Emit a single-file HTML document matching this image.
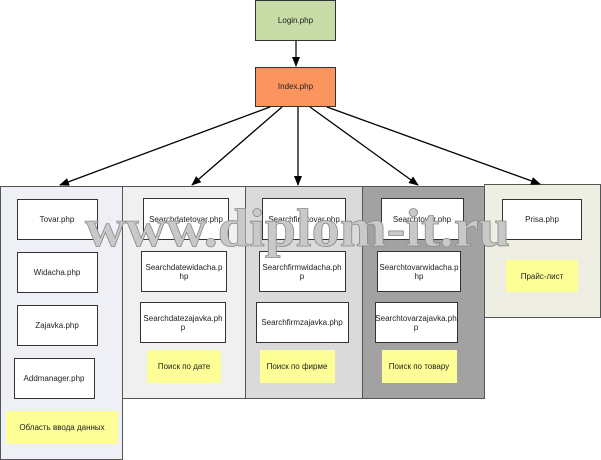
<!DOCTYPE html>
<html><head><meta charset="utf-8"><style>
html,body{margin:0;padding:0;background:#fff;}
svg{display:block;}
text{font-family:"Liberation Sans","DejaVu Sans",sans-serif;font-size:8px;fill:#222;}
</style></head><body>
<svg width="601" height="460" viewBox="0 0 601 460" xmlns="http://www.w3.org/2000/svg">
<defs><marker id="a" markerWidth="10" markerHeight="8" refX="9" refY="4" orient="auto" markerUnits="userSpaceOnUse"><path d="M0,0 L10,4 L0,8 z" fill="#000"/></marker></defs>
<!-- columns -->
<rect x="0.5" y="186.5" width="122" height="273" fill="#eef0f5" stroke="#555"/>
<rect x="122.5" y="186.5" width="123" height="212" fill="#f0f0f0" stroke="#555"/>
<rect x="245.5" y="186.5" width="117" height="212" fill="#dadada" stroke="#555"/>
<rect x="362.5" y="186.5" width="122" height="212" fill="#a2a2a2" stroke="#555"/>
<rect x="484.5" y="184.5" width="116" height="133" fill="#eeefe2" stroke="#555"/>
<!-- top -->
<rect x="255.5" y="0.5" width="80" height="40" fill="#c6dba6" stroke="#333"/>
<text x="295.5" y="23" text-anchor="middle">Login.php</text>
<line x1="296" y1="41" x2="296" y2="66" stroke="#000" stroke-width="1.2" marker-end="url(#a)"/>
<rect x="255.5" y="67.5" width="80" height="39" fill="#fc9460" stroke="#333"/>
<text x="295.5" y="89" text-anchor="middle">Index.php</text>
<g stroke="#000" stroke-width="1.3" marker-end="url(#a)">
<line x1="270" y1="107" x2="60" y2="185"/>
<line x1="282" y1="107" x2="192" y2="185"/>
<line x1="298" y1="107" x2="298" y2="185"/>
<line x1="310" y1="107" x2="418" y2="185"/>
<line x1="327" y1="107" x2="540" y2="184"/>
</g>
<g fill="#fff" stroke="#333">
<rect x="17.5" y="199.5" width="80" height="40"/>
<rect x="17.5" y="252.5" width="80" height="40"/>
<rect x="17.5" y="305.5" width="80" height="40"/>
<rect x="14.5" y="358.5" width="80" height="40"/>
<rect x="143.5" y="198.5" width="85" height="41"/>
<rect x="141.5" y="251.5" width="85" height="40"/>
<rect x="140.5" y="302.5" width="85" height="40"/>
<rect x="262.5" y="198.5" width="83" height="41"/>
<rect x="259.5" y="251.5" width="86" height="40"/>
<rect x="256.5" y="302.5" width="92" height="40"/>
<rect x="381.5" y="198.5" width="82" height="41"/>
<rect x="377.5" y="251.5" width="83" height="40"/>
<rect x="375.5" y="302.5" width="82" height="40"/>
<rect x="502.5" y="199.5" width="79" height="40"/>
</g>
<g fill="#fefe96">
<rect x="6" y="411" width="112" height="33"/>
<rect x="147" y="350" width="74" height="33"/>
<rect x="260" y="350" width="75" height="33"/>
<rect x="382" y="350" width="75" height="33"/>
<rect x="506" y="260" width="72" height="32"/>
</g>
<g text-anchor="middle">
<text x="57" y="222">Tovar.php</text>
<text x="57" y="275">Widacha.php</text>
<text x="57" y="328">Zajavka.php</text>
<text x="54" y="381">Addmanager.php</text>
<text x="62" y="430">Область ввода данных</text>
<text x="186" y="222">Searchdatetovar.php</text>
<text x="184" y="270">Searchdatewidacha.p</text><text x="184" y="279">hp</text>
<text x="183" y="321">Searchdatezajavka.ph</text><text x="183" y="330">p</text>
<text x="184" y="369">Поиск по дате</text>
<text x="304" y="222">Searchfirmtovar.php</text>
<text x="302" y="270">Searchfirmwidacha.ph</text><text x="302" y="279">p</text>
<text x="302" y="325">Searchfirmzajavka.php</text>
<text x="297" y="369">Поиск по фирме</text>
<text x="422" y="222">Searchtovar.php</text>
<text x="419" y="270">Searchtovarwidacha.p</text><text x="419" y="279">hp</text>
<text x="416" y="321">Searchtovarzajavka.ph</text><text x="416" y="330">p</text>
<text x="419" y="369">Поиск по товару</text>
<text x="542" y="222">Prisa.php</text>
<text x="542" y="279">Прайс-лист</text>
</g>
<text x="85" y="246" textLength="425" lengthAdjust="spacingAndGlyphs" style="font-family:'Liberation Serif',serif;font-size:54px;font-weight:bold;fill:#c9c9c9;stroke:#8a8a8a;stroke-width:0.8;">www.diplom-it.ru</text>
</svg>
</body></html>
